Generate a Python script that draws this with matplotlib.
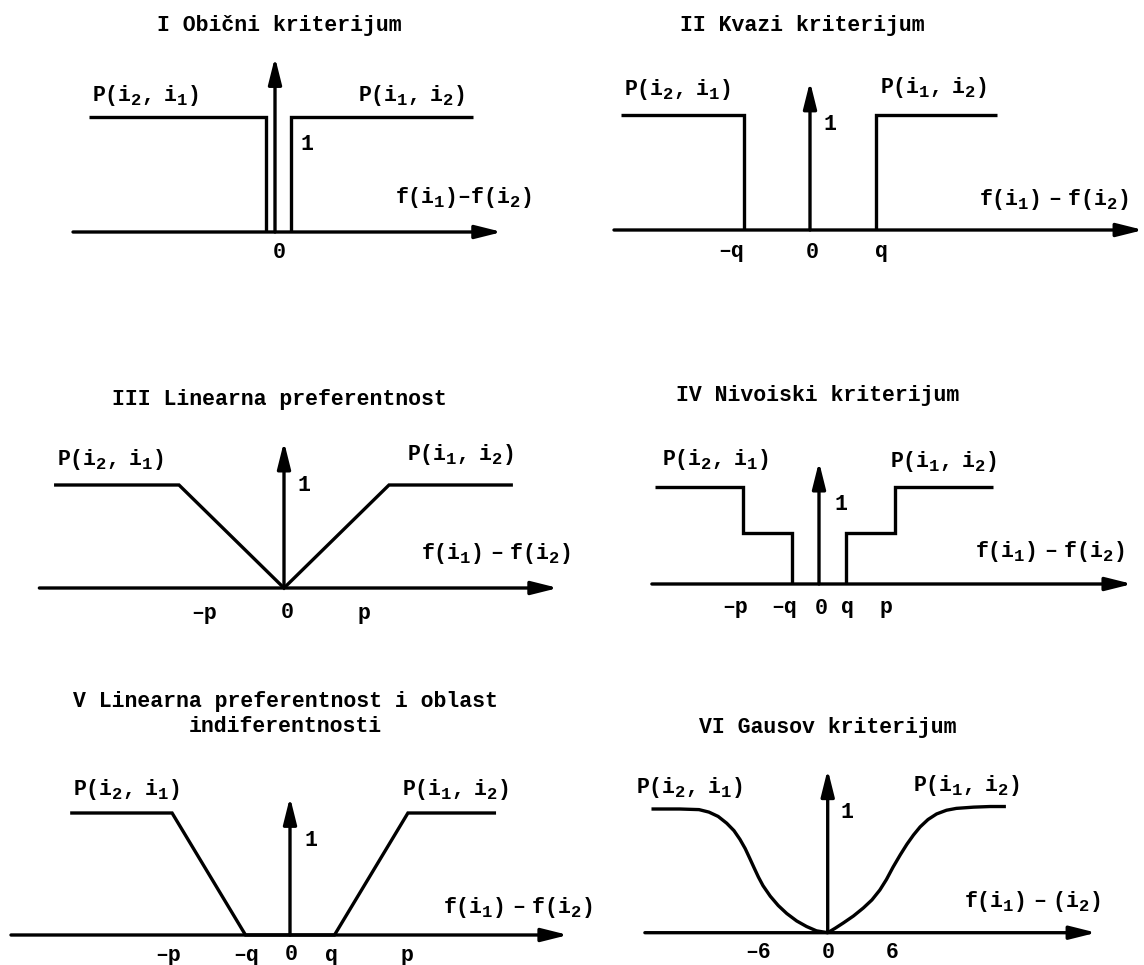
import matplotlib
matplotlib.use("Agg")
import matplotlib.pyplot as plt

try:  # larger, lower subscripts like the typewritten original
    import matplotlib._mathtext as _mt
    _mt.SHRINK_FACTOR = 0.8
    if hasattr(_mt.FontConstantsBase, "sub1"):
        _mt.FontConstantsBase.sub1 = 0.38
    if hasattr(_mt.FontConstantsBase, "sub2"):
        _mt.FontConstantsBase.sub2 = 0.45
except Exception:
    pass

# ---------------- data (abstract units of each panel) ----------------
# Panel I  - usual criterion
I_left_x = [-1.86, -0.09, -0.09]
I_left_y = [1, 1, 0]
I_right_x = [0.16, 0.16, 1.98]
I_right_y = [0, 1, 1]
I_axis = [-2.02, 2.27]
I_ytop = 1.52
I_tick_pos = [0.04]
I_tick_lab = ["0"]

# Panel II - quasi criterion (q = 1)
II_left_x = [-2.86, -1, -1]
II_left_y = [1, 1, 0]
II_right_x = [1, 1, 2.83]
II_right_y = [0, 1, 1]
II_axis = [-2.97, 5.05]
II_ytop = 1.29
II_tick_pos = [-1.2, 0.03, 1.08]
II_tick_lab = ["–q", "0", "q"]

# Panel III - linear preference (p = 1)
III_x = [-2.19, -1, 0, 1, 2.18]
III_y = [1, 1, 0, 1, 1]
III_axis = [-2.33, 2.61]
III_ytop = 1.42
III_tick_pos = [-0.76, 0.03, 0.76]
III_tick_lab = ["–p", "0", "p"]

# Panel IV - level criterion (q = 1, p = 2.8)
IV_left_x = [-6.07, -2.8, -2.8, -1, -1]
IV_left_y = [1, 1, 0.53, 0.53, 0]
IV_right_x = [1, 1, 2.8, 2.8, 6.44]
IV_right_y = [0, 0.53, 0.53, 1, 1]
IV_axis = [-6.19, 11.6]
IV_ytop = 1.26
IV_tick_pos = [-3.1, -1.3, 0.07, 1.07, 2.48]
IV_tick_lab = ["–p", "–q", "0", "q", "p"]

# Panel V - linear preference with indifference area (q = 1, p = 2.65)
V_x = [-4.94, -2.65, -1, 1, 2.65, 4.63]
V_y = [1, 1, 0, 0, 1, 1]
V_axis = [-6.27, 6.25]
V_ytop = 1.13
V_tick_pos = [-2.74, -0.99, 0.02, 0.94, 2.63]
V_tick_lab = ["–p", "–q", "0", "q", "p"]

# Panel VI - Gaussian criterion (sigma = 1)
VI_left_x = [-2.67, -2.24, -1.95, -1.80, -1.66, -1.53, -1.42, -1.33, -1.25, -1.18,
             -1.12, -1.05, -0.98, -0.87, -0.75, -0.62, -0.47, -0.32, -0.17, 0]
VI_left_y = [1.0, 1.0, 0.995, 0.975, 0.94, 0.885, 0.825, 0.755, 0.68, 0.60,
             0.53, 0.45, 0.38, 0.295, 0.22, 0.155, 0.095, 0.05, 0.015, 0]
VI_right_x = [0, 0.11, 0.24, 0.39, 0.54, 0.67, 0.79, 0.89, 0.99, 1.10,
              1.20, 1.30, 1.40, 1.52, 1.65, 1.80, 1.95, 2.21, 2.46, 2.70]
VI_right_y = [0, 0.035, 0.08, 0.135, 0.20, 0.265, 0.345, 0.43, 0.53, 0.63,
              0.715, 0.79, 0.855, 0.915, 0.96, 0.99, 1.005, 1.015, 1.02, 1.02]
VI_axis = [-2.77, 4.07]
VI_ytop = 1.32
VI_tick_pos = [-1.05, 0, 0.97]
VI_tick_lab = ["–6", "0", "6"]

TITLES = ["I Obični kriterijum", "II Kvazi kriterijum",
          "III Linearna preferentnost", "IV Nivoiski kriterijum",
          "V Linearna preferentnost i oblast\nindiferentnosti",
          "VI Gausov kriterijum"]
P21 = r"$P(i_2,\enspace i_1)$"
P12 = r"$P(i_1,\enspace i_2)$"
F_LABELS = [r"$f(i_1)$–$f(i_2)$",
            r"$f(i_1)\enspace$–$\enspace f(i_2)$",
            r"$f(i_1)\enspace$–$\enspace f(i_2)$",
            r"$f(i_1)\enspace$–$\enspace f(i_2)$",
            r"$f(i_1)\enspace$–$\enspace f(i_2)$",
            r"$f(i_1)\enspace$–$\enspace (i_2)$"]

# ---------------- layout (pixels) ----------------
W, H = 1144, 965
FONT = "Liberation Mono"
FS = 15.5
LW = 2.4

plt.rcParams["font.family"] = [FONT, "DejaVu Sans Mono"]
plt.rcParams["font.weight"] = "bold"
plt.rcParams["mathtext.fontset"] = "custom"
for k in ("rm", "it", "bf", "sf", "tt"):
    plt.rcParams["mathtext." + k] = FONT + ":bold"
plt.rcParams["mathtext.default"] = "rm"

# origin pixel (ox, oy) and pixels per unit (sx, sy) for each panel
PANELS = [
    dict(ox=275, oy=232, sx=100, sy=115, tick_y=252,
         title=(279, 26), p21=(146, 95), p12=(412, 95), f=(463, 197), one=(307, 145)),
    dict(ox=810, oy=230, sx=66, sy=115, tick_y=252,
         title=(802, 25), p21=(678, 90), p12=(934, 87), f=(1054, 199), one=(830, 125)),
    dict(ox=284, oy=588, sx=105, sy=103, tick_y=613,
         title=(279, 399), p21=(111, 459), p12=(461, 454), f=(496, 554), one=(304, 486)),
    dict(ox=819, oy=584, sx=27, sy=97, tick_y=608,
         title=(818, 395), p21=(716, 459), p12=(944, 462), f=(1050, 552), one=(841, 505)),
    dict(ox=290, oy=935, sx=44.5, sy=122, tick_y=955,
         title=(285, 714), p21=(127, 790), p12=(456, 790), f=(518, 907), one=(311, 840)),
    dict(ox=827.7, oy=932.7, sx=66, sy=123.7, tick_y=953,
         title=(828, 728), p21=(690, 787), p12=(967, 785), f=(1032, 902), one=(847, 813)),
]

fig = plt.figure(figsize=(W / 100, H / 100), dpi=100)
fig.patch.set_facecolor("white")


def fx(px):
    return px / W


def fy(py):
    return 1 - py / H


def make_axes(L):
    ax = fig.add_axes([0, 0, 1, 1])
    ax.set_xlim(-L["ox"] / L["sx"], (W - L["ox"]) / L["sx"])
    ax.set_ylim((L["oy"] - H) / L["sy"], L["oy"] / L["sy"])
    ax.set_facecolor("none")
    ax.axis("off")
    return ax


def arrow(ax, x0, y0, x1, y1):
    ax.annotate("", xy=(x1, y1), xytext=(x0, y0),
                arrowprops=dict(arrowstyle="-|>,head_length=0.8,head_width=0.2",
                                mutation_scale=20, lw=LW, color="black",
                                shrinkA=0, shrinkB=0), annotation_clip=False)


def decorate(ax, L, axis, ytop, tick_pos, tick_lab, title, flabel):
    arrow(ax, axis[0], 0, axis[1], 0)
    arrow(ax, 0, 0, 0, ytop)
    tick_trans = ax.get_xaxis_transform()
    for xp, lab in zip(tick_pos, tick_lab):
        ax.text(xp, fy(L["tick_y"]), lab, transform=tick_trans, ha="center",
                va="center", fontsize=FS, fontweight="bold")
    fig.text(fx(L["title"][0]), fy(L["title"][1]), title, ha="center", va="center",
             fontsize=FS, fontweight="bold", linespacing=1.3, multialignment="center")
    fig.text(fx(L["p21"][0]), fy(L["p21"][1]), P21, ha="center", va="center", fontsize=FS)
    fig.text(fx(L["p12"][0]), fy(L["p12"][1]), P12, ha="center", va="center", fontsize=FS)
    fig.text(fx(L["f"][0]), fy(L["f"][1]), flabel, ha="center", va="center", fontsize=FS)
    fig.text(fx(L["one"][0]), fy(L["one"][1]), "1", ha="center", va="center",
             fontsize=FS, fontweight="bold")


line_kw = dict(color="black", lw=LW, solid_joinstyle="miter", solid_capstyle="butt")
curve_kw = dict(color="black", lw=LW, solid_joinstyle="round", solid_capstyle="butt")

# Panel I
ax = make_axes(PANELS[0])
ax.plot(I_left_x, I_left_y, **line_kw)
ax.plot(I_right_x, I_right_y, **line_kw)
decorate(ax, PANELS[0], I_axis, I_ytop, I_tick_pos, I_tick_lab, TITLES[0], F_LABELS[0])

# Panel II
ax = make_axes(PANELS[1])
ax.plot(II_left_x, II_left_y, **line_kw)
ax.plot(II_right_x, II_right_y, **line_kw)
decorate(ax, PANELS[1], II_axis, II_ytop, II_tick_pos, II_tick_lab, TITLES[1], F_LABELS[1])

# Panel III
ax = make_axes(PANELS[2])
ax.plot(III_x, III_y, **line_kw)
decorate(ax, PANELS[2], III_axis, III_ytop, III_tick_pos, III_tick_lab, TITLES[2], F_LABELS[2])

# Panel IV
ax = make_axes(PANELS[3])
ax.plot(IV_left_x, IV_left_y, **line_kw)
ax.plot(IV_right_x, IV_right_y, **line_kw)
decorate(ax, PANELS[3], IV_axis, IV_ytop, IV_tick_pos, IV_tick_lab, TITLES[3], F_LABELS[3])

# Panel V
ax = make_axes(PANELS[4])
ax.plot(V_x, V_y, **line_kw)
decorate(ax, PANELS[4], V_axis, V_ytop, V_tick_pos, V_tick_lab, TITLES[4], F_LABELS[4])

# Panel VI
ax = make_axes(PANELS[5])
ax.plot(VI_left_x, VI_left_y, **curve_kw)
ax.plot(VI_right_x, VI_right_y, **curve_kw)
decorate(ax, PANELS[5], VI_axis, VI_ytop, VI_tick_pos, VI_tick_lab, TITLES[5], F_LABELS[5])

fig.savefig("out.png", dpi=100, facecolor="white")
